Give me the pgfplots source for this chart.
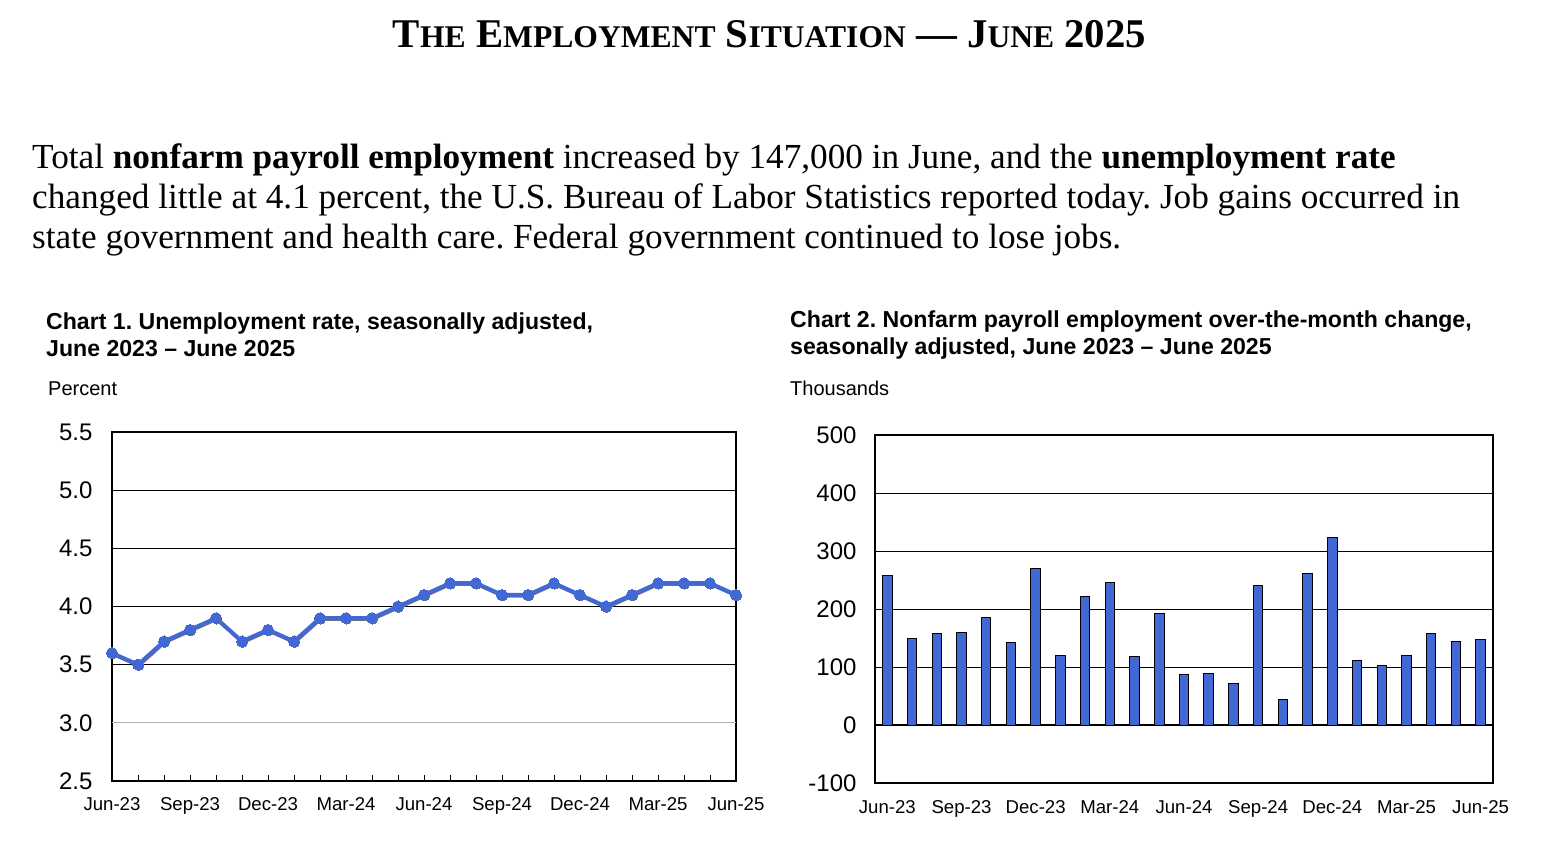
\documentclass[border=0pt]{standalone}
\usepackage{fontspec}
\setmainfont{Liberation Serif}
\newfontfamily\arial{Liberation Sans}
\usepackage{pgfplots}
\usepackage{pgfplotstable}
\pgfplotsset{compat=1.18}
\definecolor{blsblue}{RGB}{66,104,214}
\frenchspacing

\pgfplotstableread{
x y
0 3.6
1 3.5
2 3.7
3 3.8
4 3.9
5 3.7
6 3.8
7 3.7
8 3.9
9 3.9
10 3.9
11 4.0
12 4.1
13 4.2
14 4.2
15 4.1
16 4.1
17 4.2
18 4.1
19 4.0
20 4.1
21 4.2
22 4.2
23 4.2
24 4.1
}\urate

\pgfplotstableread{
x y
0 257
1 149
2 157
3 159
4 186
5 142
6 269
7 119
8 221
9 246
10 118
11 193
12 87
13 89
14 71
15 240
16 44
17 261
18 323
19 111
20 102
21 120
22 158
23 144
24 147
}\payroll

\begin{document}
\frenchspacing
\begin{tikzpicture}[x=1pt,y=1pt]
\useasboundingbox (0,0) rectangle (1543,841);
% main title
\node[anchor=base, inner sep=0] at (769.5,793) {\bfseries\fontsize{40.8}{40.8}\selectfont T{\fontsize{31.6}{31.6}\selectfont HE} E{\fontsize{31.6}{31.6}\selectfont MPLOYMENT} S{\fontsize{31.6}{31.6}\selectfont ITUATION} — J{\fontsize{31.6}{31.6}\selectfont UNE} 2025};
% paragraph
\node[anchor=base west, inner sep=0] at (32,672) {\fontsize{35.2}{35.2}\selectfont Total \textbf{nonfarm payroll employment} increased by 147,000 in June, and the \textbf{unemployment rate}};
\node[anchor=base west, inner sep=0] at (32,632) {\fontsize{35.2}{35.2}\selectfont changed little at 4.1 percent, the U.S. Bureau of Labor Statistics reported today. Job gains occurred in};
\node[anchor=base west, inner sep=0] at (32,592) {\fontsize{35.2}{35.2}\selectfont state government and health care. Federal government continued to lose jobs.};
% chart titles
\node[anchor=base west, inner sep=0] at (46,511.5) {\arial\bfseries\fontsize{23.1}{23.1}\selectfont Chart 1. Unemployment rate, seasonally adjusted,};
\node[anchor=base west, inner sep=0] at (46,484) {\arial\bfseries\fontsize{23.1}{23.1}\selectfont June 2023 – June 2025};
\node[anchor=base west, inner sep=0] at (48,445) {\arial\fontsize{20}{20}\selectfont Percent};
\node[anchor=base west, inner sep=0] at (790,513.5) {\arial\bfseries\fontsize{23.1}{23.1}\selectfont Chart 2. Nonfarm payroll employment over-the-month change,};
\node[anchor=base west, inner sep=0] at (790,486) {\arial\bfseries\fontsize{23.1}{23.1}\selectfont seasonally adjusted, June 2023 – June 2025};
\node[anchor=base west, inner sep=0] at (790,445) {\arial\fontsize{20}{20}\selectfont Thousands};

% Chart 1
\begin{axis}[at={(112pt,60pt)}, anchor=south west, scale only axis,
  width=624pt, height=349pt,
  xmin=0, xmax=24, ymin=2.5, ymax=5.5,
  ytick={2.5,3.5,4.0,4.5,5.0,5.5},
  extra y ticks={3.0},
  extra y tick style={grid style={gray!60, line width=0.8pt}, tick style={draw=none}},
  ymajorgrids, grid style={black, line width=0.9pt},
  xtick={0,...,24},
  xticklabels={Jun-23,,,Sep-23,,,Dec-23,,,Mar-24,,,Jun-24,,,Sep-24,,,Dec-24,,,Mar-25,,,Jun-25},
  tick align=inside, major tick length=6pt, xtick pos=bottom,
  xtick style={black, line width=1pt},
  ytick style={draw=none},
  axis line style={black, line width=1.2pt},
  yticklabel style={font=\arial\fontsize{24}{24}\selectfont, xshift=-16pt},
  xticklabel style={font=\arial\fontsize{18.6}{18.6}\selectfont, yshift=-13pt},
  /pgf/number format/fixed, /pgf/number format/fixed zerofill,
  /pgf/number format/precision=1, /pgf/number format/assume math mode=true,
  clip=false]
\addplot[black!55, line width=3.6pt, mark=*, mark size=5pt, xshift=0.6pt, yshift=-0.9pt,
  mark options={fill=black!55, draw=black!55, line width=0pt}] table[x=x,y=y]{\urate};
\addplot[blsblue, line width=4pt, mark=*, mark size=5.5pt,
  mark options={fill=blsblue, draw=blsblue, line width=0pt}] table[x=x,y=y]{\urate};
\end{axis}

% Chart 2
\begin{axis}[at={(875pt,58pt)}, anchor=south west, scale only axis,
  width=618pt, height=348pt,
  xmin=-0.5, xmax=24.5, ymin=-100, ymax=500,
  ytick={-100,0,100,200,300,400,500},
  ymajorgrids, grid style={black, line width=0.9pt},
  extra y ticks={0}, extra y tick labels={},
  extra y tick style={grid style={black, line width=2pt}, tick style={draw=none}},
  xtick={0,...,24},
  xticklabels={Jun-23,,,Sep-23,,,Dec-23,,,Mar-24,,,Jun-24,,,Sep-24,,,Dec-24,,,Mar-25,,,Jun-25},
  xtick style={draw=none}, ytick style={draw=none},
  axis line style={black, line width=1.2pt},
  yticklabel style={font=\arial\fontsize{24}{24}\selectfont, xshift=-15pt},
  xticklabel style={font=\arial\fontsize{18.6}{18.6}\selectfont, yshift=-10pt},
  /pgf/number format/assume math mode=true,
  ybar, bar width=9.5pt]
\addplot[fill=blsblue, draw=black, line width=1pt] table[x=x,y=y]{\payroll};
\end{axis}
\end{tikzpicture}
\end{document}
